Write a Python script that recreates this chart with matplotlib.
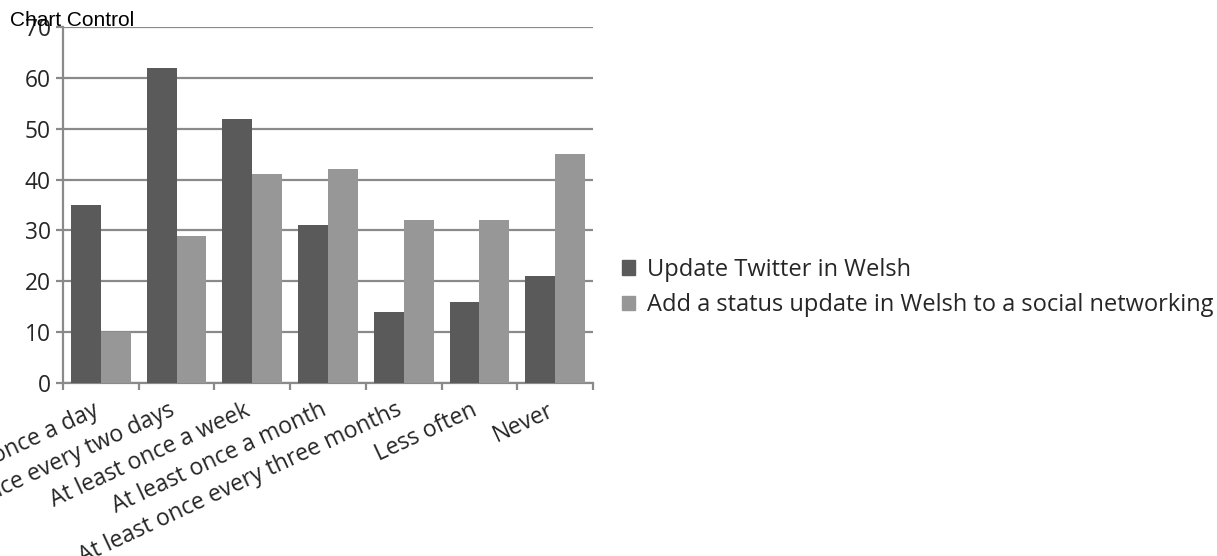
import matplotlib
matplotlib.use("Agg")
import matplotlib.pyplot as plt
import numpy as np
from matplotlib.patches import Patch

categories = [
    "At least once a day",
    "At least once every two days",
    "At least once a week",
    "At least once a month",
    "At least once every three months",
    "Less often",
    "Never",
]
twitter = [35, 62, 52, 31, 14, 16, 21]
status = [10, 29, 41, 42, 32, 32, 45]
series_names = [
    "Update Twitter in Welsh",
    "Add a status update in Welsh to a social networking site",
]
dark, light, grid_c = "#5a5a5a", "#979797", "#8a8a8a"
text_c = "#262626"
label_font = "Open Sans"

fig = plt.figure(figsize=(12.17, 5.56), dpi=100)
ax = fig.add_axes([63 / 1217, 1 - 383 / 556, (593 - 63) / 1217, (383 - 27) / 556])

x = np.arange(len(categories))
w = 0.395
ax.bar(x - w / 2, twitter, w, color=dark, zorder=3)
ax.bar(x + w / 2, status, w, color=light, zorder=3)

ax.set_xlim(-0.5, len(categories) - 0.5)
ax.set_ylim(0, 70)
ax.set_yticks(range(0, 71, 10))
ax.yaxis.grid(True, color=grid_c, linewidth=1.6, zorder=0)
ax.set_axisbelow(True)

for s in ("top", "right"):
    ax.spines[s].set_visible(False)
for s in ("left", "bottom"):
    ax.spines[s].set_color(grid_c)
    ax.spines[s].set_linewidth(1.6)

# category boundary ticks on the x axis, labels placed at centers
ax.set_xticks(np.arange(-0.5, len(categories) + 0.5, 1))
ax.set_xticklabels([])
ax.tick_params(axis="x", length=5, color=grid_c, width=1.6)
ax.tick_params(axis="y", length=5, color=grid_c, width=1.6, pad=4,
               labelsize=16.4, labelcolor=text_c)
for t in ax.get_yticklabels():
    t.set_fontfamily(label_font)

for i, name in enumerate(categories):
    ax.annotate(name, xy=(i, 0), xycoords=("data", "axes fraction"),
                xytext=(-6, -11), textcoords="offset points",
                rotation=25, rotation_mode="anchor", ha="right", va="top",
                fontsize=16.6, family=label_font, color=text_c,
                annotation_clip=False)

handles = [Patch(color=dark), Patch(color=light)]
fig.legend(handles, series_names, loc="center left",
           bbox_to_anchor=(622 / 1217, 1 - 287.5 / 556), frameon=False,
           prop={"family": label_font, "size": 17}, labelcolor=text_c,
           handlelength=0.55, handleheight=0.55, handletextpad=0.5,
           labelspacing=0.48, borderaxespad=0, borderpad=0)

fig.text(10 / 1217, 1 - 20 / 556, "Chart Control", family="Liberation Sans",
         fontsize=15, va="center", ha="left", color="black")

fig.savefig("out.png", dpi=100)
